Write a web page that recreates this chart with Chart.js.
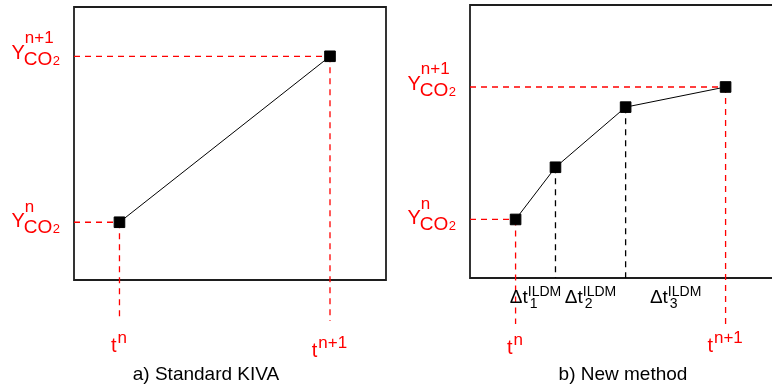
<!DOCTYPE html>
<html>
<head>
<meta charset="utf-8">
<script src="https://cdn.jsdelivr.net/npm/chart.js@4/dist/chart.umd.min.js"></script>
<style>
  html, body { margin: 0; padding: 0; background: #fff; }
  #wrap { position: relative; width: 772px; height: 387px; overflow: hidden; }
  canvas { position: absolute; top: 0; }
  #c1 { left: 0; }
  #c2 { left: 400px; }
</style>
</head>
<body>
<div id="wrap">
  <canvas id="c1" width="400" height="387"></canvas>
  <canvas id="c2" width="372" height="387"></canvas>
</div>
<script>
// ---- data (arbitrary units) ----
const kivaTimes = [0, 1];            // t^n, t^(n+1)
const kivaValues = [0, 1];           // Y_CO2^n, Y_CO2^(n+1)
const newTimes = [0, 0.19, 0.524, 1];
const newValues = [0, 0.394, 0.848, 1];
const levelSup = ['n', 'n+1'];       // superscripts for Y_CO2 and t labels
const ildmSubs = ['1', '2', '3'];    // sub-step indices
const captions = ['a) Standard KIVA', 'b) New method'];

const FONT = '"Liberation Sans", Arial, Helvetica, sans-serif';
const RED = '#ff0000';

function f(size) { return size + 'px ' + FONT; }

function drawYLabel(ctx, x0, lineY, sup, dy) {
  ctx.fillStyle = RED;
  ctx.textAlign = 'left';
  ctx.textBaseline = 'alphabetic';
  ctx.font = f(20);
  ctx.fillText('Y', x0, lineY + dy);
  const wY = ctx.measureText('Y').width;
  ctx.font = f(17);
  ctx.fillText(sup, x0 + wY, lineY + dy - 15.5);
  ctx.font = f(19);
  ctx.fillText('CO', x0 + wY - 1, lineY + dy + 6);
  const wCO = ctx.measureText('CO').width;
  ctx.font = f(13);
  ctx.fillText('2', x0 + wY + wCO - 0.5, lineY + dy + 6);
}

function drawTLabel(ctx, cx, base, sup) {
  ctx.fillStyle = RED;
  ctx.textAlign = 'left';
  ctx.textBaseline = 'alphabetic';
  ctx.font = f(20);
  const wt = ctx.measureText('t').width;
  ctx.font = f(17);
  const ws = ctx.measureText(sup).width;
  const x0 = cx - (wt + ws) / 2 - 1;
  ctx.font = f(20);
  ctx.fillText('t', x0, base);
  ctx.font = f(17);
  ctx.fillText(sup, x0 + wt + 1, base - 9);
}

function drawDtLabel(ctx, cx, base, sub) {
  ctx.fillStyle = '#000';
  ctx.textAlign = 'left';
  ctx.textBaseline = 'alphabetic';
  ctx.font = f(19);
  const wd = ctx.measureText('\u0394t').width;
  ctx.font = f(14);
  const ws = ctx.measureText('ILDM').width;
  const x0 = cx - (wd + ws) / 2;
  ctx.font = f(19);
  ctx.fillText('\u0394t', x0, base);
  ctx.font = f(14);
  ctx.fillText('ILDM', x0 + wd, base - 7);
  ctx.fillText(sub, x0 + wd + 2, base + 5);
}

function dashed(ctx, color, x1, y1, x2, y2) {
  ctx.save();
  ctx.strokeStyle = color;
  ctx.lineWidth = 1.3;
  ctx.setLineDash([6, 5]);
  ctx.beginPath();
  ctx.moveTo(x1, y1);
  ctx.lineTo(x2, y2);
  ctx.stroke();
  ctx.restore();
}

const annotPlugin = {
  id: 'annot',
  beforeDatasetsDraw(chart, args, opts) {
    const ctx = chart.ctx;
    const a = chart.chartArea;
    const xs = chart.scales.x, ys = chart.scales.y;
    const times = opts.times, vals = opts.values;
    // box
    ctx.save();
    ctx.strokeStyle = '#1e1e1e';
    ctx.lineWidth = 1.8;
    ctx.beginPath();
    if (opts.openRight) {
      ctx.moveTo(a.right + 2, a.top);
      ctx.lineTo(a.left, a.top);
      ctx.lineTo(a.left, a.bottom);
      ctx.lineTo(a.right + 2, a.bottom);
    } else {
      ctx.rect(a.left, a.top, a.right - a.left, a.bottom - a.top);
    }
    ctx.stroke();
    ctx.restore();
    // guide lines
    const last = times.length - 1;
    times.forEach((t, i) => {
      const px = xs.getPixelForValue(t);
      const py = ys.getPixelForValue(vals[i]);
      if (i === 0 || i === last) {
        dashed(ctx, RED, a.left, py, px, py);
        dashed(ctx, RED, px, py, px, opts.tailY);
      } else {
        dashed(ctx, '#000', px, py, px, a.bottom);
      }
    });
  },
  afterDraw(chart, args, opts) {
    const ctx = chart.ctx;
    const a = chart.chartArea;
    const xs = chart.scales.x, ys = chart.scales.y;
    const times = opts.times, vals = opts.values;
    const last = times.length - 1;
    ctx.save();
    [0, last].forEach((i, k) => {
      const py = ys.getPixelForValue(vals[i]);
      drawYLabel(ctx, a.left - 62.5, py, levelSup[k], k === 0 ? 5 : 2.7);
    });
    [0, last].forEach((i, k) => {
      const px = xs.getPixelForValue(times[i]);
      drawTLabel(ctx, px, opts.tBase[k], levelSup[k]);
    });
    if (opts.ildm) {
      for (let i = 0; i < last; i++) {
        const cx = (xs.getPixelForValue(times[i]) + xs.getPixelForValue(times[i + 1])) / 2;
        drawDtLabel(ctx, cx, 303, ildmSubs[i]);
      }
    }
    ctx.fillStyle = '#000';
    ctx.font = f(19);
    ctx.textAlign = 'center';
    ctx.fillText(opts.caption, opts.captionX, 380);
    ctx.restore();
  }
};

function makeChart(id, times, vals, padding, xr, yr, extra) {
  return new Chart(document.getElementById(id), {
    type: 'line',
    data: {
      datasets: [{
        data: times.map((t, i) => ({ x: t, y: vals[i] })),
        borderColor: '#000',
        borderWidth: 1,
        pointStyle: 'rect',
        pointRadius: 7.5,
        pointBackgroundColor: '#000',
        pointBorderColor: '#000',
        pointBorderWidth: 1,
        tension: 0,
        clip: false
      }]
    },
    options: {
      responsive: false,
      animation: false,
      devicePixelRatio: 1,
      layout: { padding: padding, autoPadding: false },
      scales: {
        x: { type: 'linear', min: xr[0], max: xr[1], display: false },
        y: { type: 'linear', min: yr[0], max: yr[1], display: false }
      },
      plugins: {
        legend: { display: false },
        tooltip: { enabled: false },
        annot: Object.assign({ times: times, values: vals }, extra)
      }
    },
    plugins: [annotPlugin]
  });
}

makeChart('c1', kivaTimes, kivaValues,
  { left: 74, top: 7, right: 14, bottom: 107 },
  [-0.216, 1.266], [-0.348, 1.297],
  { caption: captions[0], captionX: 206, tailY: 321, tBase: [352, 357], openRight: false, ildm: false });

makeChart('c2', newTimes, newValues,
  { left: 70, top: 5, right: 0, bottom: 109 },
  [-0.217, 1.221], [-0.442, 1.619],
  { caption: captions[1], captionX: 223, tailY: 324, tBase: [354, 352], openRight: true, ildm: true });
</script>
</body>
</html>
